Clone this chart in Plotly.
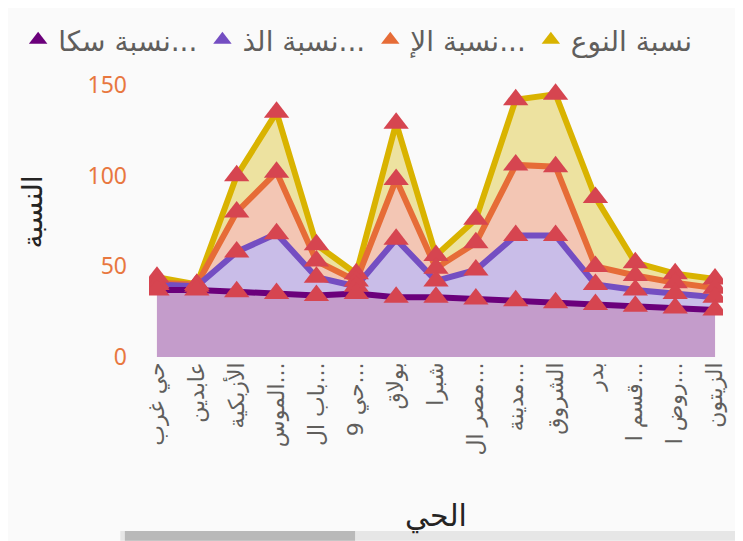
import plotly.graph_objects as go

categories = ["حي غرب", "عابدين", "الأزبكية", "الموس...", "باب ال...", "حي 9...", "بولاق",
              "شبرا", "مصر ال...", "مدينة...", "الشروق", "بدر", "قسم ا...", "روض ا...", "الزيتون"]

series_names = ["نسبة النوع", "نسبة الإ...", "نسبة الذ...", "نسبة سكا..."]
yellow_vals = [44, 40, 100, 135, 62, 46, 129, 56, 76, 142, 145, 88, 52, 46, 43]
orange_vals = [41, 40, 80, 102, 53, 42, 98, 49, 63, 106, 105, 50, 45, 41, 38]
blue_vals = [40, 39, 58, 68, 44, 39, 65, 42, 48, 67, 67, 40, 37, 35, 33]
purple_vals = [37, 37, 36, 35, 34, 35, 33, 33, 32, 31, 30, 29, 28, 27, 26]

line_colors = ["#D9B300", "#E66C37", "#744EC2", "#6B007B"]
fill_colors = ["#EDE2A0", "#F3C6B4", "#C9BDE8", "#C49CCB"]
marker_color = "#D64550"
all_vals = [yellow_vals, orange_vals, blue_vals, purple_vals]

fig = go.Figure()
for name, vals, lc, fc in zip(series_names, all_vals, line_colors, fill_colors):
    fig.add_trace(go.Scatter(x=categories, y=vals, mode="lines", fill="tozeroy",
                             fillcolor=fc, line=dict(color=lc, width=6),
                             showlegend=False, name=name, hoverinfo="skip"))
for name, vals in zip(series_names, all_vals):
    fig.add_trace(go.Scatter(x=categories, y=vals, mode="markers",
                             marker=dict(symbol="triangle-up", size=22, color=marker_color),
                             showlegend=False, name=name))
# legend entries (series colours), shown left-to-right: purple ... yellow
for name, lc in reversed(list(zip(series_names, line_colors))):
    fig.add_trace(go.Scatter(x=[None], y=[None], mode="markers", name=name,
                             marker=dict(symbol="triangle-up", size=16, color=lc)))

fig.update_layout(
    width=735, height=533,
    paper_bgcolor="#FAFAFA", plot_bgcolor="#FAFAFA",
    margin=dict(l=141, r=20, t=59, b=184, autoexpand=False),
    font=dict(family="DejaVu Sans", color="#605E5C"),
    legend=dict(orientation="h", x=-0.228, xanchor="left", y=1.093, yanchor="middle",
                font=dict(size=28, color="#605E5C", family="DejaVu Sans"),
                itemwidth=30, tracegroupgap=0, bgcolor="rgba(0,0,0,0)"),
    xaxis=dict(type="category", range=[-0.2, 14.2], showgrid=False, zeroline=False,
               showline=False, tickangle=-90, ticks="", automargin=False,
               tickfont=dict(size=22, color="#605E5C", family="DejaVu Sans"),
               title=dict(text="الحي", font=dict(size=30, color="#252423", family="DejaVu Sans"),
                          standoff=50)),
    yaxis=dict(range=[0, 160], tickvals=[0, 50, 100, 150], showgrid=False, zeroline=False,
               showline=False, ticks="", ticklabelstandoff=21, automargin=False,
               tickfont=dict(size=23, color="#E8773F", family="Segoe UI, Noto Sans"),
               title=dict(text="النسبة", font=dict(size=28, color="#252423", family="DejaVu Sans"),
                          standoff=36)),
    shapes=[
        dict(type="rect", xref="paper", yref="paper", x0=-0.05, x1=1.035, y0=-0.634, y1=-0.6,
             fillcolor="#E6E6E6", line=dict(width=0)),
        dict(type="rect", xref="paper", yref="paper", x0=-0.042, x1=0.359, y0=-0.634, y1=-0.6,
             fillcolor="#B9B9B9", line=dict(width=0)),
    ],
)
fig.write_html("out.html")
